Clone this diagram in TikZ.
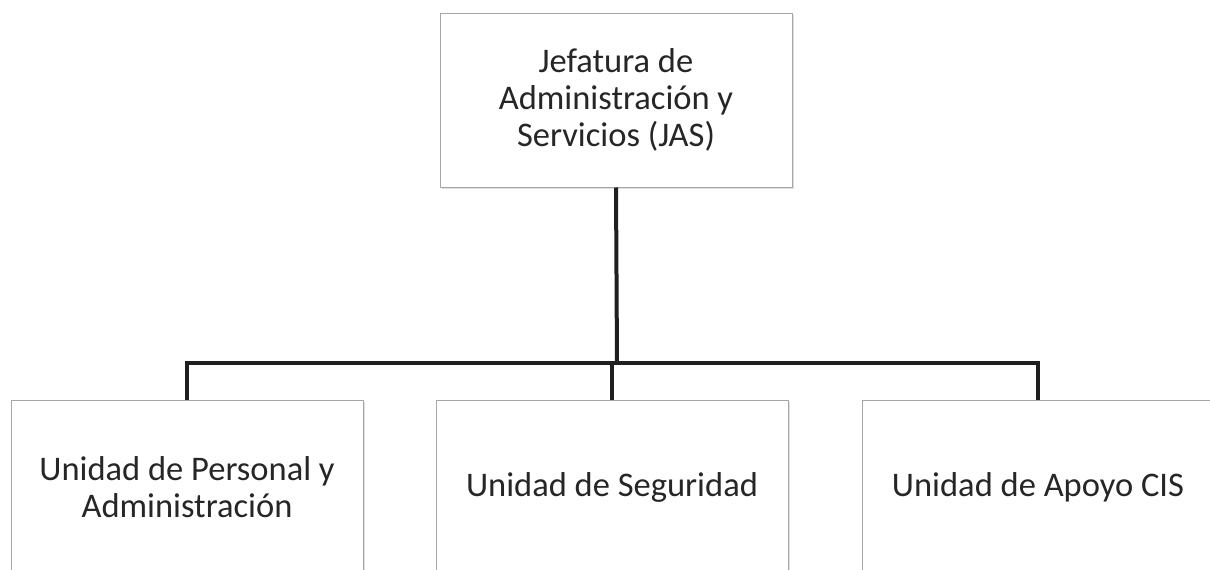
\documentclass[tikz,border=0pt]{standalone}
\usepackage{fontspec}
\setmainfont{Carlito}
\usetikzlibrary{positioning,shadows}

\begin{document}
\begin{tikzpicture}[x=1pt,y=1pt,
  unit/.style = {draw=gray!70, line width=1pt, fill=white, minimum width=352pt, minimum height=174pt,
    align=center, font=\fontsize{34.5}{37}\selectfont, text=black!85,
    drop shadow={opacity=0.25, shadow xshift=1.5pt, shadow yshift=-2pt}},
  link/.style = {line width=4pt, draw=black!88}]
\useasboundingbox (0,0) rectangle (1210,-570);
\begin{scope}
\clip (0,0) rectangle (1210,-570);
\node (JAS) at (616,-100) [unit] {Jefatura de\\Administración y\\Servicios (JAS)};
\node (UPA) at (187,-487) [unit] {Unidad de Personal y\\Administración};
\node (US) at (612,-487) [unit] {Unidad de Seguridad};
\node (UAC) at (1038,-487) [unit] {Unidad de Apoyo CIS};
\coordinate (bar) at (617,-363);
\draw[link] (JAS.south) -- (bar);
\draw[link] (UPA.north) |- (bar) -| (UAC.north);
\draw[link] (US.north) -- (US.north |- bar);
\end{scope}
\end{tikzpicture}
\end{document}
